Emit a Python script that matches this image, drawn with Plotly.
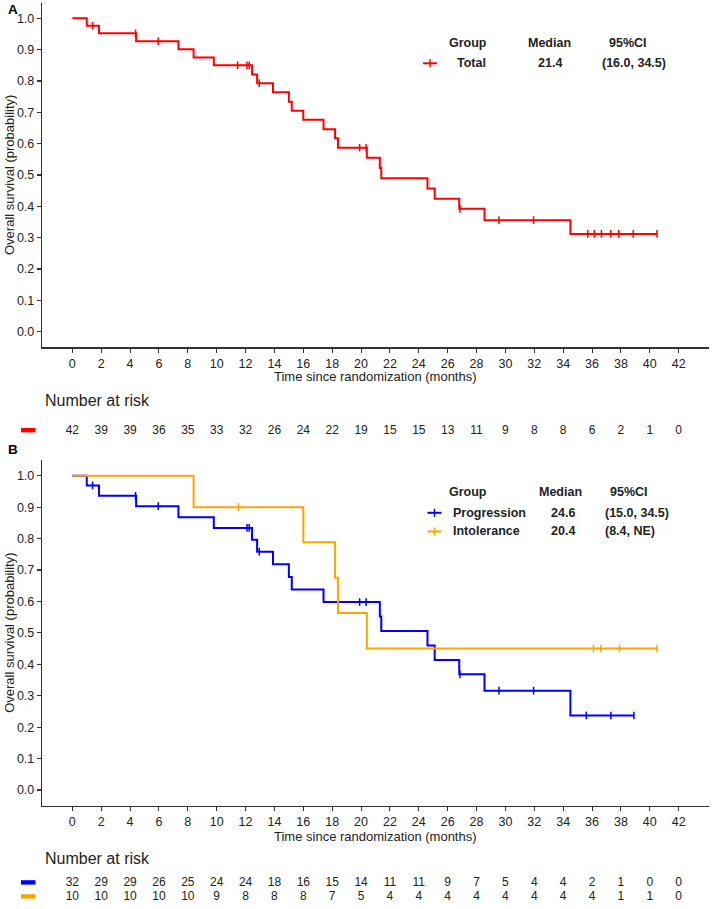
import plotly.graph_objects as go

W, H = 712, 909
FONT = "Arial, Liberation Sans, sans-serif"

# ---------------- data ----------------
time_ticks = list(range(0, 44, 2))
surv_ticks = [0.0, 0.1, 0.2, 0.3, 0.4, 0.5, 0.6, 0.7, 0.8, 0.9, 1.0]

# Panel A: Total
total_step_t = [0, 1.0, 1.85, 4.42, 7.35, 8.4, 9.8, 12.45, 12.8, 13.9, 15.0, 15.2, 16.0,
                17.4, 18.2, 18.4, 20.4, 21.3, 21.4, 24.6, 25.1, 26.8, 28.55, 34.5, 40.5]
total_step_s = [1.0, 0.976, 0.952, 0.927, 0.901, 0.875, 0.850, 0.821, 0.793, 0.764, 0.734,
                0.705, 0.676, 0.646, 0.617, 0.587, 0.555, 0.522, 0.490, 0.457, 0.424,
                0.392, 0.356, 0.312, 0.312]
total_censor_t = [1.4, 4.38, 5.95, 11.45, 12.1, 12.25, 12.95, 19.9, 20.35, 26.85, 29.55,
                  31.95, 35.7, 36.15, 36.65, 37.3, 37.85, 38.85, 40.5]
total_risk = [42, 39, 39, 36, 35, 33, 32, 26, 24, 22, 19, 15, 15, 13, 11, 9, 8, 8, 6, 2, 1, 0]

# Panel B: Progression
prog_step_t = [0, 1.0, 1.85, 4.42, 7.35, 9.8, 12.45, 12.8, 13.9, 15.0, 15.2, 17.4, 21.3,
               21.4, 24.6, 25.1, 26.8, 28.55, 34.5, 38.9]
prog_step_s = [1.0, 0.969, 0.936, 0.903, 0.868, 0.834, 0.796, 0.758, 0.718, 0.678, 0.638,
               0.598, 0.552, 0.506, 0.460, 0.414, 0.368, 0.316, 0.237, 0.237]
prog_censor_t = [1.4, 4.38, 5.95, 12.1, 12.25, 12.95, 19.9, 20.35, 26.85, 29.55, 31.95,
                 35.6, 37.3, 38.9]
prog_risk = [32, 29, 29, 26, 25, 24, 24, 18, 16, 15, 14, 11, 11, 9, 7, 5, 4, 4, 2, 1, 0, 0]

# Panel B: Intolerance
intol_step_t = [0, 8.4, 16.0, 18.2, 18.4, 20.4, 40.5]
intol_step_s = [1.0, 0.900, 0.788, 0.675, 0.563, 0.450, 0.450]
intol_censor_t = [11.5, 36.1, 36.6, 37.9, 40.5]
intol_risk = [10, 10, 10, 10, 10, 9, 8, 8, 8, 7, 5, 4, 4, 4, 4, 4, 4, 4, 4, 1, 1, 0]

legend_a = [("Total", "21.4", "(16.0, 34.5)")]
legend_b = [("Progression", "24.6", "(15.0, 34.5)"), ("Intolerance", "20.4", "(8.4, NE)")]

RED, BLUE, ORANGE = "#ff0000", "#0000ff", "#ffa500"
AXCOL = "#333333"


def step_lookup(ts, ss, t):
    val = ss[0]
    for a, b in zip(ts, ss):
        if a <= t:
            val = b
    return val


def px(x):
    return x / W


def py(y):
    return 1 - y / H


fig = go.Figure()


def add_curve(ts, ss, cts, color, xa, ya):
    fig.add_trace(go.Scatter(x=ts, y=ss, mode="lines", line=dict(color=color, width=2, shape="hv"),
                             xaxis=xa, yaxis=ya, showlegend=False, hoverinfo="skip"))
    fig.add_trace(go.Scatter(x=cts, y=[step_lookup(ts, ss, c) for c in cts], mode="markers",
                             marker=dict(symbol="line-ns-open", size=5.5, color=color,
                                         line=dict(color=color, width=1.5)),
                             xaxis=xa, yaxis=ya, showlegend=False, hoverinfo="skip"))


add_curve(total_step_t, total_step_s, total_censor_t, RED, "x", "y")
add_curve(prog_step_t, prog_step_s, prog_censor_t, BLUE, "x2", "y2")
add_curve(intol_step_t, intol_step_s, intol_censor_t, ORANGE, "x2", "y2")

# risk tables
tfont = dict(family=FONT, size=12, color="#222222")
fig.add_trace(go.Scatter(x=time_ticks, y=[0.5] * len(time_ticks), mode="text",
                         text=[str(v) for v in total_risk], textfont=tfont,
                         xaxis="x3", yaxis="y3", showlegend=False, hoverinfo="skip"))
fig.add_trace(go.Scatter(x=time_ticks, y=[1.5] * len(time_ticks), mode="text",
                         text=[str(v) for v in prog_risk], textfont=tfont,
                         xaxis="x4", yaxis="y4", showlegend=False, hoverinfo="skip"))
fig.add_trace(go.Scatter(x=time_ticks, y=[0.5] * len(time_ticks), mode="text",
                         text=[str(v) for v in intol_risk], textfont=tfont,
                         xaxis="x4", yaxis="y4", showlegend=False, hoverinfo="skip"))

XR = [-2.1, 44.1]
xdom = [px(42.0), px(709.0)]
axis_common = dict(showline=True, linecolor=AXCOL, linewidth=1.2, ticks="outside",
                   ticklen=4, tickcolor=AXCOL, tickwidth=1.1, showgrid=False, zeroline=False,
                   tickfont=dict(family=FONT, size=12.5, color="#222222"))

fig.update_layout(
    width=W, height=H, margin=dict(l=0, r=0, t=0, b=0),
    paper_bgcolor="white", plot_bgcolor="white",
    xaxis=dict(domain=xdom, range=XR, tickvals=time_ticks, anchor="y", **axis_common),
    yaxis=dict(domain=[py(347.4), py(2.6)], range=[-0.05, 1.05], tickvals=surv_ticks,
               tickformat=".1f", anchor="x", **axis_common),
    xaxis2=dict(domain=xdom, range=XR, tickvals=time_ticks, anchor="y2", **axis_common),
    yaxis2=dict(domain=[py(805.7), py(460.0)], range=[-0.05, 1.05], tickvals=surv_ticks,
                tickformat=".1f", anchor="x2", **axis_common),
    xaxis3=dict(domain=xdom, range=XR, visible=False, anchor="y3"),
    yaxis3=dict(domain=[py(441.4), py(420.0)], range=[0, 1], visible=False, anchor="x3"),
    xaxis4=dict(domain=xdom, range=XR, visible=False, anchor="y4"),
    yaxis4=dict(domain=[py(903.7), py(875.7)], range=[0, 2], visible=False, anchor="x4"),
    font=dict(family=FONT, size=12, color="#222222"),
)

ann = []


def text(x, y, s, size=12.5, xanchor="center", bold=False, angle=0, color="#222222"):
    ann.append(dict(x=px(x), y=py(y), xref="paper", yref="paper", showarrow=False,
                    text=f"<b>{s}</b>" if bold else s, xanchor=xanchor, yanchor="middle",
                    textangle=angle, font=dict(family=FONT, size=size, color=color)))


# panel letters
text(6, 10, "A", size=13.5, xanchor="left", bold=True, color="black")
text(6, 449, "B", size=13.5, xanchor="left", bold=True, color="black")

# axis titles
for (top, bot, xt) in [(2.6, 347.4, 377), (460.0, 805.7, 836)]:
    text(10, (top + bot) / 2, "Overall survival (probability)", size=13, angle=-90)
    text(375.5, xt, "Time since randomization (months)", size=13)

# number at risk titles
text(42.5, 400, "Number at risk", size=16, xanchor="left")
text(42.5, 858, "Number at risk", size=16, xanchor="left")

# legend tables
text(467.5, 42.7, "Group", bold=True)
text(549.5, 42.7, "Median", bold=True)
text(628, 42.7, "95%CI", bold=True)
for (g, m, ci) in legend_a:
    text(471, 63.3, g, bold=True)
    text(550, 63.3, m, bold=True)
    text(600, 63.3, ci, bold=True, xanchor="left")

text(467.5, 491.7, "Group", bold=True)
text(560.5, 491.7, "Median", bold=True)
text(629, 491.7, "95%CI", bold=True)
for i, (g, m, ci) in enumerate(legend_b):
    yy = 512.6 + i * 18.7
    text(450.7, yy, g, bold=True, xanchor="left")
    text(562.5, yy, m, bold=True)
    text(602.7, yy, ci, bold=True, xanchor="left")

fig.update_layout(annotations=ann)

shapes = []


def legend_mark(cx, cy, color):
    shapes.append(dict(type="line", xref="paper", yref="paper", x0=px(cx - 7), x1=px(cx + 7),
                       y0=py(cy), y1=py(cy), line=dict(color=color, width=2)))
    shapes.append(dict(type="line", xref="paper", yref="paper", x0=px(cx), x1=px(cx),
                       y0=py(cy - 4), y1=py(cy + 4), line=dict(color=color, width=1.5)))


legend_mark(430, 63.3, RED)
legend_mark(434.5, 512.8, BLUE)
legend_mark(434.5, 531.5, ORANGE)


def risk_bar(y, color):
    shapes.append(dict(type="rect", xref="paper", yref="paper", x0=px(21), x1=px(35.5),
                       y0=py(y + 2.2), y1=py(y - 2.2), fillcolor=color, line=dict(width=0)))


risk_bar(430.2, RED)
risk_bar(882.4, BLUE)
risk_bar(896.4, ORANGE)

fig.update_layout(shapes=shapes)

fig.write_html("out.html", config={"displayModeBar": False, "staticPlot": True},
               post_script="document.body.style.margin='0';document.body.style.overflow='hidden';")
